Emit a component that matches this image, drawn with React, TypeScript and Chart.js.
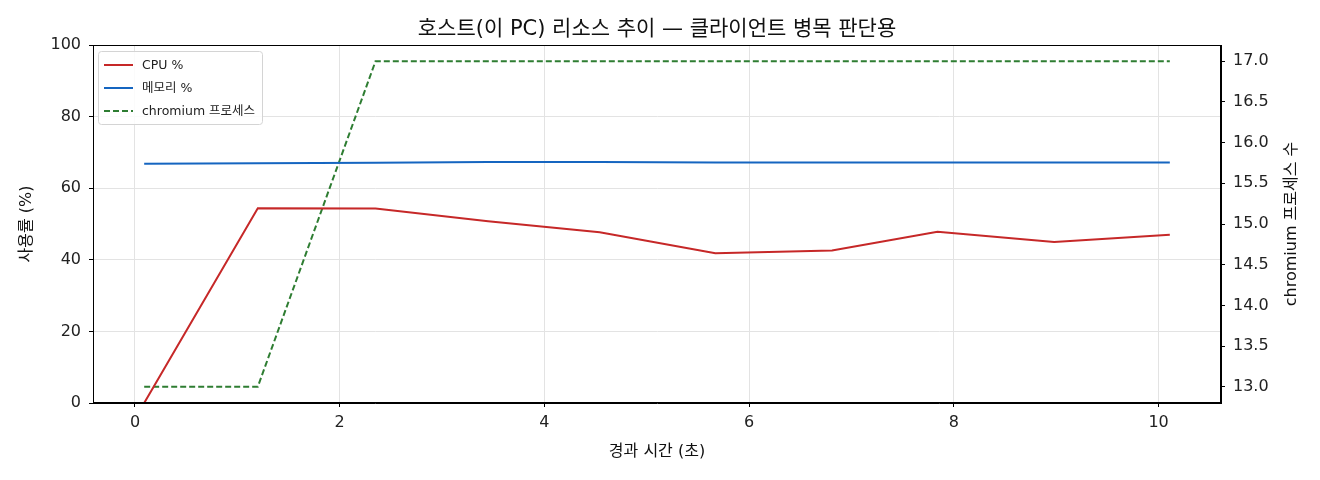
import React, { useEffect, useRef } from "react";
import { Chart, registerables } from "chart.js";

Chart.register(...registerables);

const elapsedSeconds = [0.09, 1.2, 2.35, 3.45, 4.54, 5.67, 6.81, 7.84, 8.98, 10.11];
const cpuPercent = [0, 54.4, 54.3, 50.8, 47.7, 41.8, 42.6, 47.8, 45.0, 47.0];
const memoryPercent = [66.8, 67.0, 67.1, 67.3, 67.3, 67.2, 67.2, 67.2, 67.2, 67.2];
const chromiumCount = [13, 13, 17, 17, 17, 17, 17, 17, 17, 17];

const xTicks = [0, 2, 4, 6, 8, 10];
const leftTicks = [0, 20, 40, 60, 80, 100];
const rightTicks = [13.0, 13.5, 14.0, 14.5, 15.0, 15.5, 16.0, 16.5, 17.0];

const seriesLabels = ["CPU %", "메모리 %", "chromium 프로세스"];
const titleText = "호스트(이 PC) 리소스 추이 — 클라이언트 병목 판단용";
const xTitle = "경과 시간 (초)";
const leftTitle = "사용률 (%)";
const rightTitle = "chromium 프로세스 수";

const FONT = '"DejaVu Sans", "Noto Sans CJK KR", sans-serif';
const RED = "#c62828";
const BLUE = "#1565c0";
const GREEN = "#2e7d32";
const GRID = "#e3e3e3";

const decorPlugin = {
  id: "decor",
  afterDraw(chart: any) {
    const ctx = chart.ctx as CanvasRenderingContext2D;
    const a = chart.chartArea;
    ctx.save();
    // frame
    ctx.strokeStyle = "#000";
    ctx.lineWidth = 1;
    ctx.strokeRect(a.left + 0.5, a.top + 0.5, a.right - a.left - 1, a.bottom - a.top - 1);
    // title
    ctx.fillStyle = "#111";
    ctx.textAlign = "center";
    ctx.textBaseline = "middle";
    ctx.font = `21px ${FONT}`;
    ctx.fillText(titleText, (a.left + a.right) / 2, 30);
    // x title
    ctx.font = `16px ${FONT}`;
    ctx.fillText(xTitle, (a.left + a.right) / 2, 452);
    // left title
    ctx.save();
    ctx.translate(27, (a.top + a.bottom) / 2);
    ctx.rotate(-Math.PI / 2);
    ctx.fillText(leftTitle, 0, 0);
    ctx.restore();
    // right title
    ctx.save();
    ctx.translate(1292, (a.top + a.bottom) / 2);
    ctx.rotate(-Math.PI / 2);
    ctx.fillText(rightTitle, 0, 0);
    ctx.restore();
    // legend
    const bx = a.left + 5;
    const by = a.top + 6;
    const bw = 164;
    const bh = 73;
    ctx.beginPath();
    (ctx as any).roundRect(bx + 0.5, by + 0.5, bw, bh, 3);
    ctx.fillStyle = "rgba(255,255,255,0.85)";
    ctx.fill();
    ctx.strokeStyle = "#d4d4d4";
    ctx.lineWidth = 1;
    ctx.stroke();
    const colors = [RED, BLUE, GREEN];
    const rows = [by + 14, by + 37, by + 60];
    ctx.font = `12.5px ${FONT}`;
    ctx.textAlign = "left";
    seriesLabels.forEach((lab, i) => {
      ctx.beginPath();
      ctx.strokeStyle = colors[i];
      ctx.lineWidth = 2;
      ctx.setLineDash(i === 2 ? [6, 3] : []);
      ctx.moveTo(bx + 6, rows[i]);
      ctx.lineTo(bx + 35, rows[i]);
      ctx.stroke();
      ctx.setLineDash([]);
      ctx.fillStyle = "#222";
      ctx.fillText(lab, bx + 44, rows[i] + 1);
    });
    ctx.restore();
  },
};

export default function App() {
  const ref = useRef<HTMLCanvasElement>(null);
  useEffect(() => {
    if (!ref.current) return;
    const mk = (ys: number[]) => elapsedSeconds.map((x, i) => ({ x, y: ys[i] }));
    const chart = new Chart(ref.current, {
      type: "line",
      data: {
        datasets: [
          {
            label: seriesLabels[0],
            data: mk(cpuPercent),
            borderColor: RED,
            borderWidth: 2,
            pointRadius: 0,
            yAxisID: "y",
            tension: 0,
          },
          {
            label: seriesLabels[1],
            data: mk(memoryPercent),
            borderColor: BLUE,
            borderWidth: 2,
            pointRadius: 0,
            yAxisID: "y",
            tension: 0,
          },
          {
            label: seriesLabels[2],
            data: mk(chromiumCount),
            borderColor: GREEN,
            borderWidth: 2,
            borderDash: [6, 3],
            pointRadius: 0,
            yAxisID: "y1",
            tension: 0,
          },
        ],
      },
      options: {
        animation: false,
        responsive: false,
        devicePixelRatio: 1,
        events: [],
        layout: { padding: { top: 45, left: 0, right: 0, bottom: 0 } },
        plugins: {
          legend: { display: false },
          title: { display: false },
          tooltip: { enabled: false },
        },
        scales: {
          x: {
            type: "linear",
            min: -0.41,
            max: 10.61,
            afterBuildTicks: (s: any) => {
              s.ticks = xTicks.map((v) => ({ value: v }));
            },
            afterFit: (s: any) => {
              s.height = 77;
            },
            grid: { color: GRID, lineWidth: 1, tickColor: "#000", tickLength: 4 },
            border: { color: "#000", width: 1 },
            ticks: {
              color: "#222",
              font: { family: FONT, size: 16 },
              padding: 6,
              maxRotation: 0,
              callback: (v: any) => String(v),
            },
          },
          y: {
            type: "linear",
            position: "left",
            min: 0,
            max: 100,
            afterBuildTicks: (s: any) => {
              s.ticks = leftTicks.map((v) => ({ value: v }));
            },
            afterFit: (s: any) => {
              s.width = 93;
            },
            grid: { color: GRID, lineWidth: 1, tickColor: "#000", tickLength: 4 },
            border: { color: "#000", width: 1 },
            ticks: {
              color: "#222",
              font: { family: FONT, size: 16 },
              padding: 8,
              callback: (v: any) => String(v),
            },
          },
          y1: {
            type: "linear",
            position: "right",
            min: 12.8,
            max: 17.2,
            afterBuildTicks: (s: any) => {
              s.ticks = rightTicks.map((v) => ({ value: v }));
            },
            afterFit: (s: any) => {
              s.width = 99;
            },
            grid: { drawOnChartArea: false, tickColor: "#000", tickLength: 4 },
            border: { color: "#000", width: 1 },
            ticks: {
              color: "#222",
              font: { family: FONT, size: 16 },
              padding: 8,
              callback: (v: any) => Number(v).toFixed(1),
            },
          },
        },
      },
      plugins: [decorPlugin],
    });
    return () => chart.destroy();
  }, []);
  return (
    <div style={{ position: "fixed", left: 0, top: 0, width: 1320, height: 480, background: "#fff" }}>
      <canvas ref={ref} width={1320} height={480} style={{ width: 1320, height: 480, display: "block" }} />
    </div>
  );
}
